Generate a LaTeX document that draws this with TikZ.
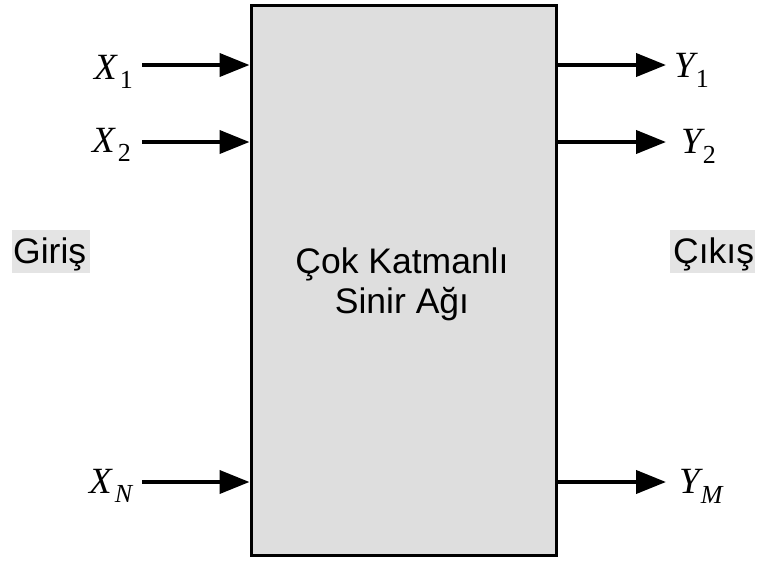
\documentclass[tikz,border=0pt]{standalone}
\usepackage{fontspec}
\setmainfont{Liberation Sans}
\newfontfamily\timesf{Liberation Serif}
\usetikzlibrary{arrows.meta}
\definecolor{boxgray}{HTML}{DEDEDE}
\definecolor{labgray}{HTML}{E4E4E4}
\newcommand{\varX}[1]{{\timesf\fontsize{37}{40}\selectfont\itshape X}\kern3pt\raisebox{-9pt}{\timesf\fontsize{26}{30}\selectfont #1}}
\newcommand{\varY}[1]{{\timesf\fontsize{37}{40}\selectfont\itshape Y}\kern1pt\raisebox{-10pt}{\timesf\fontsize{26}{30}\selectfont #1}}
\begin{document}
\begin{tikzpicture}[x=1pt,y=-1pt,
  bigtext/.style={font=\fontsize{35.5}{40}\selectfont, inner sep=0pt, anchor=base},
  varlab/.style={inner sep=0pt, anchor=base west},
  arr/.style={line width=4pt, -{Triangle[length=30pt,width=23pt]}},
  graybg/.style={fill=labgray, draw=none}]
\useasboundingbox (0,0) rectangle (758,560);
% main box
\node[draw, line width=3pt, fill=boxgray, minimum width=305pt, minimum height=550pt, inner sep=0pt] (box) at (403.5,280) {};
\node[bigtext] (t1) at (402,273) {Çok Katmanlı};
\node[bigtext] (t2) at (402,313) {Sinir Ağı};
% side labels
\fill[labgray] (12,230) rectangle (90,273);
\node[bigtext, anchor=base west] (giris) at (13,263) {Giriş};
\fill[labgray] (670,230) rectangle (755,273);
\node[bigtext, anchor=base west] (cikis) at (673,263) {Çıkış};
% input labels
\node[varlab] (x1) at (94,79) {\varX{1}};
\node[varlab] (x2) at (92,152) {\varX{2}};
\node[varlab] (xn) at (89,493) {\varX{\itshape N}};
% output labels
\node[varlab] (y1) at (674,77) {\varY{1}};
\node[varlab] (y2) at (681,153) {\varY{2}};
\node[varlab] (ym) at (679,493) {\varY{\itshape M}};
% arrow coordinates
\coordinate (a1) at (142,65);
\coordinate (a2) at (142,142);
\coordinate (an) at (142,482);
\coordinate (b1) at (666,65);
\coordinate (b2) at (666,142);
\coordinate (bm) at (666,482);
\draw[arr] (a1) -- (a1 -| box.west);
\draw[arr] (a2) -- (a2 -| box.west);
\draw[arr] (an) -- (an -| box.west);
\draw[arr] (b1 -| box.east) -- (b1);
\draw[arr] (b2 -| box.east) -- (b2);
\draw[arr] (bm -| box.east) -- (bm);
\end{tikzpicture}
\end{document}
